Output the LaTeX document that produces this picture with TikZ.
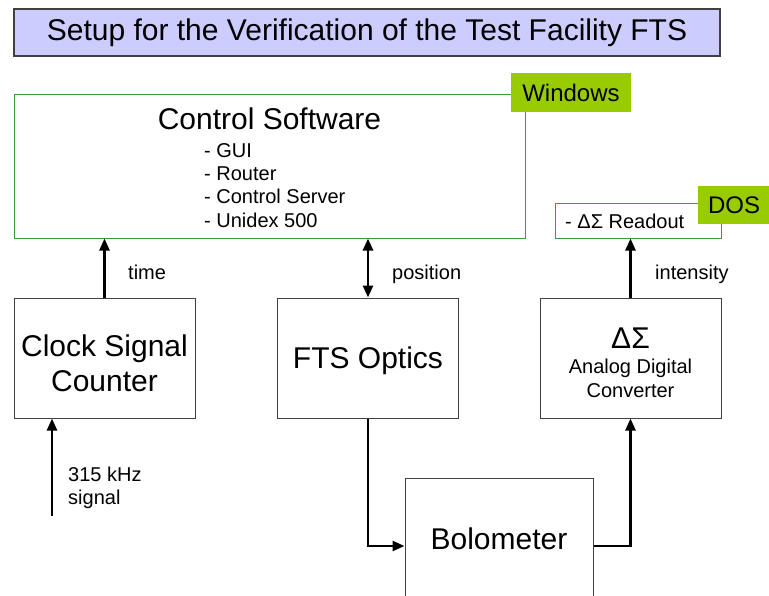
\documentclass[tikz,border=0pt]{standalone}
\usepackage{fontspec}
\setmainfont{Liberation Sans}
\usetikzlibrary{arrows.meta}
\definecolor{titlefill}{HTML}{CCCCFF}
\definecolor{osgreen}{HTML}{99CC00}
\definecolor{swgreen}{HTML}{3C9A3C}
\definecolor{boxgray}{HTML}{404040}
\newcommand{\bigtxt}{\fontsize{30}{35}\selectfont}
\newcommand{\midtxt}{\fontsize{24}{28}\selectfont}
\newcommand{\smalltxt}{\fontsize{20}{23.3}\selectfont}

\begin{document}
\begin{tikzpicture}[x=1pt, y=-1pt, >={Triangle[length=12pt,width=10pt]},
  unit/.style={draw=boxgray, line width=1pt, minimum width=181pt, minimum height=120pt,
    inner sep=0pt, align=center, font=\bigtxt},
  swbox/.style={draw=swgreen, line width=1pt, inner sep=0pt},
  ostag/.style={fill=osgreen, inner sep=0pt, font=\midtxt},
  lbl/.style={inner sep=0pt, font=\smalltxt},
  link/.style={line width=2.5pt}]

\useasboundingbox (0,0) rectangle (769,595);

% Title bar
\node[draw=boxgray, line width=1.5pt, fill=titlefill, minimum width=706pt, minimum height=47pt,
  inner sep=0pt, font=\bigtxt] (title) at (367,32.5) {Setup for the Verification of the Test Facility FTS};

% Control software (Windows)
\node[swbox, minimum width=511pt, minimum height=144pt] (ctrl) at (269.5,166) {};
\node[font=\bigtxt, inner sep=0pt] (ctrlname) at (269.5,119) {Control Software};
\node[lbl, anchor=north west, align=left] (ctrllist) at (204,143)
  {- GUI\\- Router\\- Control Server\\- Unidex 500};
\node[ostag, minimum width=120pt, minimum height=39pt] (win) at (571,92.5) {Windows};

% Readout (DOS)
\node[swbox, minimum width=166pt, minimum height=35pt] (readout) at (638,220.5) {};
\node[lbl, anchor=base west] (readtxt) at (565,228) {- ΔΣ Readout};
\node[ostag, minimum width=72pt, minimum height=38pt] (dos) at (734,205) {DOS};

% Hardware units
\node[unit, text height=66pt, text depth=0pt] (clock) at (104.5,358) {Clock Signal\\Counter};
\node[unit, text depth=0pt] (fts) at (368,358) {FTS Optics};
\node[unit, font=\smalltxt, text height=78pt, text depth=0pt] (adc) at (630.5,358) {{\bigtxt ΔΣ}\\[2pt]Analog Digital\\Converter};
\node[unit, minimum width=188pt, minimum height=136pt, text depth=14pt] (bolo) at (499,546) {Bolometer};

% Signal lines
\coordinate (sig) at (52,516);
\draw[link, ->] (sig) -- (sig |- clock.south);
\draw[link, ->] (clock.north) -- (clock.north |- ctrl.south);
\draw[link, <->] (fts.north) -- (fts.north |- ctrl.south);
\draw[link, ->] (adc.north) -- (adc.north |- readout.south);
\draw[link, ->] (fts.south) |- (bolo.west);
\draw[link, ->] (bolo.east) -| (adc.south);

% Line labels
\node[lbl, anchor=base west] (timelbl) at (128,279) {time};
\node[lbl, anchor=base west] (poslbl) at (392,279) {position};
\node[lbl, anchor=base west] (intlbl) at (655,279) {intensity};
\node[lbl, anchor=north west, align=left] (siglbl) at (68,467) {315 kHz\\signal};

\end{tikzpicture}
\end{document}
